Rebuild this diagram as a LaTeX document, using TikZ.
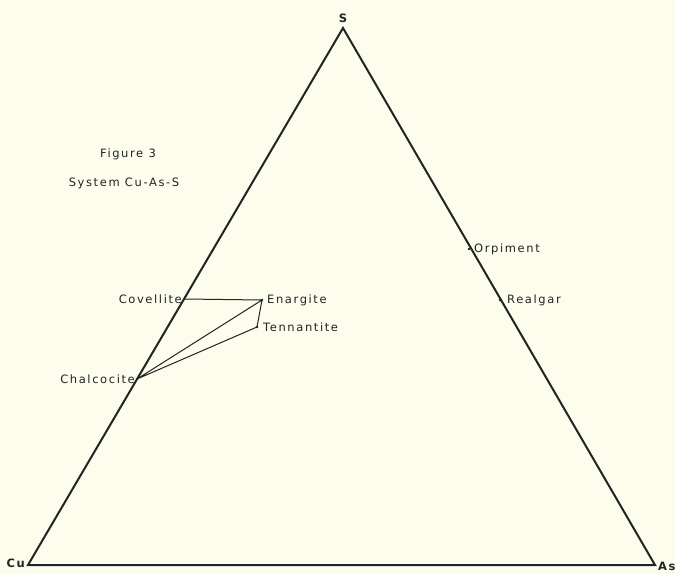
\documentclass[tikz,border=0pt]{standalone}
\usepackage{fontspec}
\setmainfont{DejaVu Sans}[LetterSpace=14]
\definecolor{paper}{RGB}{253,253,238}
\definecolor{ink}{RGB}{35,35,35}
\begin{document}
\begin{tikzpicture}[x=1pt,y=-1pt,
  lbl/.style={inner sep=0pt,font=\fontsize{11.5}{13}\selectfont,text=ink},
  vlbl/.style={inner sep=0pt,font=\fontsize{11.5}{13}\selectfont\bfseries,text=ink},
  edge/.style={draw=ink,line width=2pt,line join=miter},
  tie/.style={draw=ink,line width=1pt},
  pt/.style={fill=ink,circle,inner sep=0pt,minimum size=2.6pt}]
\fill[paper] (0,0) rectangle (675,574);
\useasboundingbox (0,0) rectangle (675,574);
% vertices
\coordinate (Cu) at (28,565);
\coordinate (As) at (655,565);
\coordinate (S) at (343,28);
% phases
\coordinate (cov) at (185,299);
\coordinate (chal) at (137,379);
\node[pt] (ena) at (262,300) {};
\node[pt] (ten) at (257,327) {};
\node[pt] (orp) at (469,249) {};
\node[pt] (rea) at (500,300) {};
% triangle
\draw[edge] (Cu) -- (S) -- (As) -- cycle;
% tie lines
\draw[tie] (cov) -- (ena.center) -- (ten.center) -- (chal) -- (ena.center);
% labels
\node[vlbl,anchor=east] (lCu) at (25,563) {Cu};
\node[vlbl,anchor=west] (lAs) at (658,566) {As};
\node[vlbl,anchor=south] (lS) at (343,23) {S};
\node[lbl,anchor=east] (lcov) at (182,299) {Covellite};
\node[lbl,anchor=east] (lchal) at (135,379) {Chalcocite};
\node[lbl,anchor=west] (lena) at (267,300) {Enargite};
\node[lbl,anchor=west] (lten) at (263,327) {Tennantite};
\node[lbl,anchor=west] (lorp) at (474,249) {Orpiment};
\node[lbl,anchor=west] (lrea) at (507,300) {Realgar};
\node[lbl] (fig) at (128,154) {Figure 3};
\node[lbl] (sys) at (124,183) {System Cu-As-S};
\end{tikzpicture}
\end{document}
